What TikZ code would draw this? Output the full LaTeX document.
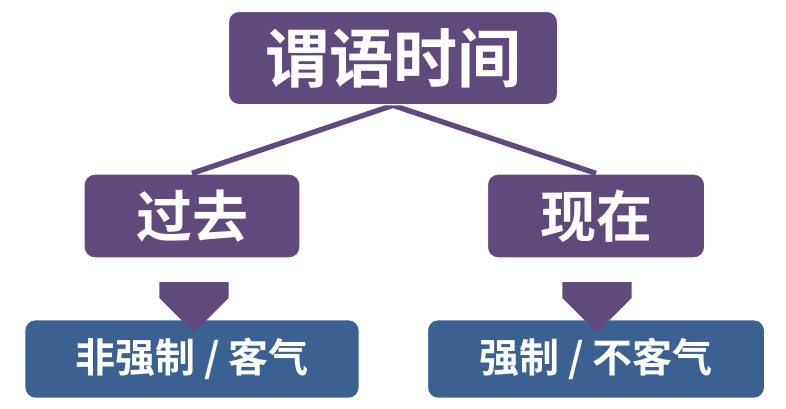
\documentclass[tikz,border=0pt]{standalone}
\usepackage{fontspec}
\newfontfamily\cjk{Noto Sans CJK SC Bold}
\usetikzlibrary{shapes.arrows}
\definecolor{pur}{HTML}{5F4A7B}
\definecolor{blu}{HTML}{3A6192}
\begin{document}
\begin{tikzpicture}[x=0.75pt,y=-0.75pt,
  box/.style={rounded corners=8pt,inner sep=0pt,text=white,font=\cjk,draw=white,line width=1pt},
  pbox/.style={box,fill=pur},
  bbox/.style={box,fill=blu},
  link/.style={draw=pur,line width=4pt},
  barrow/.style={single arrow,fill=pur,shape border rotate=270,minimum width=52pt,single arrow head extend=0pt,inner sep=0pt,minimum height=38pt,single arrow tip angle=90}]
\useasboundingbox (0,0) rectangle (786,408);
\node[pbox,minimum width=247pt,minimum height=70pt,font=\cjk\fontsize{48}{52}\selectfont] (top) at (393,58) {谓语时间};
\node[pbox,minimum width=162pt,minimum height=63pt,font=\cjk\fontsize{42}{46}\selectfont] (past) at (192,216) {过去};
\node[pbox,minimum width=163pt,minimum height=63pt,font=\cjk\fontsize{42}{46}\selectfont] (pres) at (596,216) {现在};
\node[bbox,minimum width=251pt,minimum height=59pt,font=\cjk\fontsize{30}{34}\selectfont] (b1) at (192,359) {非强制 / 客气};
\node[bbox,minimum width=253pt,minimum height=59pt,font=\cjk\fontsize{30}{34}\selectfont] (b2) at (596,359) {强制 / 不客气};
\begin{scope}[on background layer/.style={}]
\draw[link] (top.south) -- (past.north);
\draw[link] (top.south) -- (pres.north);
\end{scope}
\node[pbox,minimum width=247pt,minimum height=70pt,font=\cjk\fontsize{48}{52}\selectfont] at (393,58) {谓语时间};
\node[barrow] (a1) at (194,290) {};
\node[barrow] (a2) at (597,290) {};
\end{tikzpicture}
\end{document}
